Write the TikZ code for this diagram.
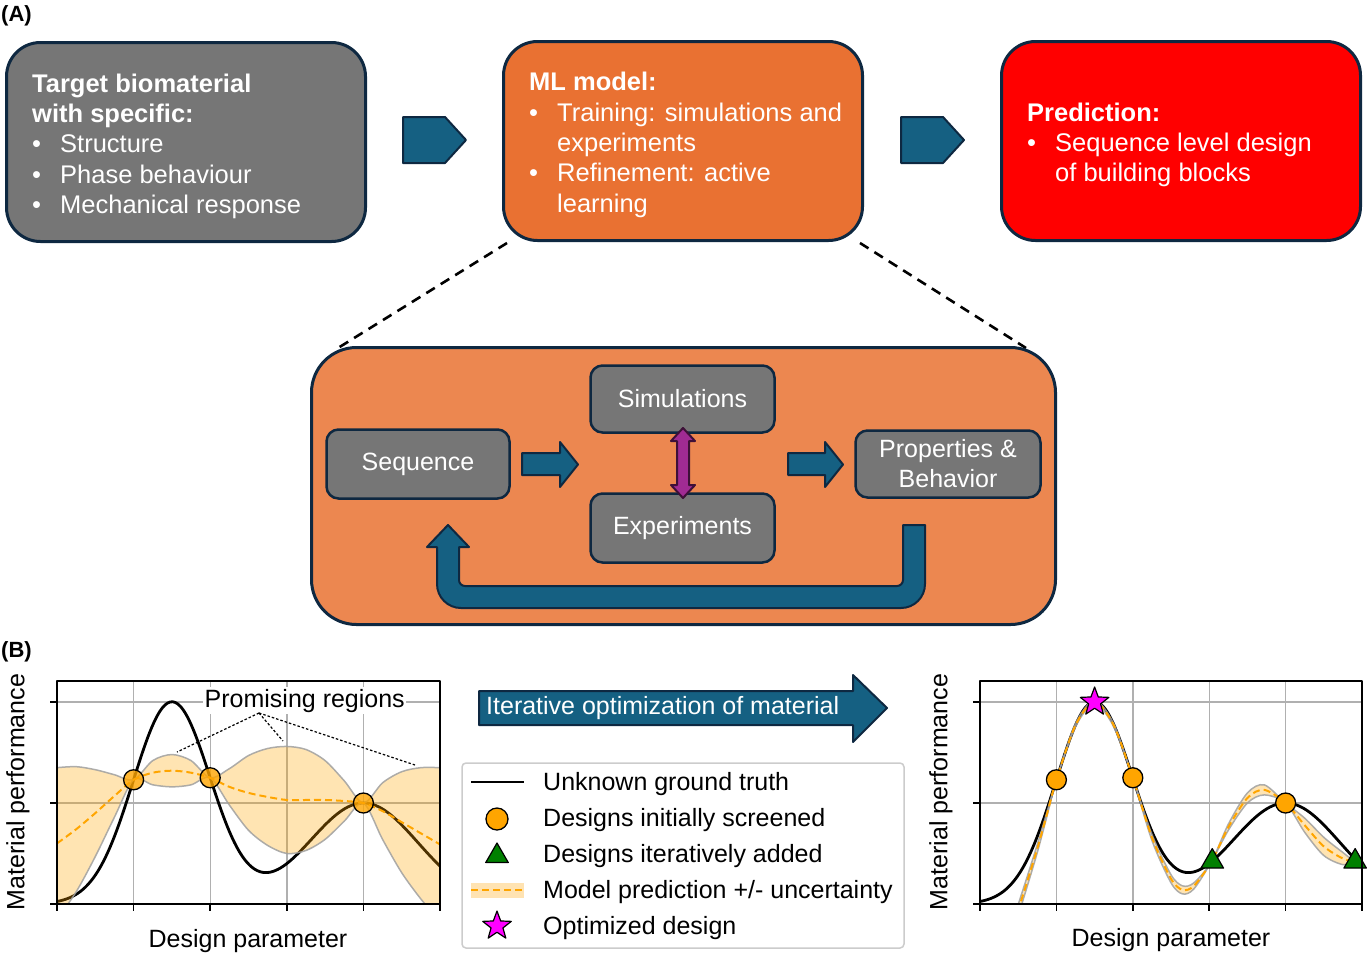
\documentclass[tikz,border=0pt]{standalone}
\usepackage{fontspec}
\setmainfont{Liberation Sans}
\usetikzlibrary{shapes.geometric}
\definecolor{navy}{HTML}{0E2841}
\definecolor{boxgray}{HTML}{767676}
\definecolor{mlorange}{HTML}{E97132}
\definecolor{lightorange}{HTML}{EC8750}
\definecolor{arrowblue}{HTML}{156082}
\definecolor{purp}{HTML}{A02B93}
\definecolor{purpdark}{HTML}{3E1038}
\definecolor{mplorange}{HTML}{FFA500}
\definecolor{mplgreen}{HTML}{008000}
\definecolor{mplmagenta}{HTML}{FF00FF}
\definecolor{gridgray}{HTML}{B0B0B0}
\definecolor{bandgray}{HTML}{A0A0A0}
\definecolor{leggray}{HTML}{CCCCCC}
\newcommand\bul{\makebox[28pt][l]{\textbullet}}
\newcommand\bigtxt{\fontsize{25.5}{30.4}\selectfont}
\newcommand\medtxt{\fontsize{25}{30}\selectfont}
\tikzset{
  topbox/.style={draw=navy, line width=3pt, rounded corners=34pt, inner sep=0pt, minimum width=359pt, minimum height=199pt},
  inbox/.style={draw=navy, line width=2.5pt, rounded corners=12pt, fill=boxgray, text=white, font=\medtxt, align=center, inner sep=0pt},
  boxtext/.style={text=white, align=left, inner sep=0pt, anchor=north west, font=\bigtxt},
  blk/.style={fill=arrowblue, draw=navy, line width=2pt},
  gridl/.style={gridgray, line width=1.4pt},
  axbox/.style={black, line width=1.8pt},
  tickmk/.style={black, line width=1.5pt},
  truth/.style={black, line width=2.8pt},
  meanl/.style={mplorange, line width=2pt, dash pattern=on 7pt off 4pt},
  bandf/.style={fill=mplorange, fill opacity=0.3},
  bande/.style={draw=bandgray, line width=1.5pt, draw opacity=0.85},
  mkc/.style={circle, fill=mplorange, draw=black, line width=1.3pt, minimum size=20pt, inner sep=0pt},
  mkt/.style={regular polygon, regular polygon sides=3, fill=mplgreen, draw=black, line width=1.2pt, minimum size=26pt, inner sep=0pt},
  mks/.style={star, star points=5, star point ratio=2.4, fill=mplmagenta, draw=black, line width=1.2pt, minimum size=30pt, inner sep=0pt},
  plotlbl/.style={font=\medtxt, inner sep=0pt},
  legtxt/.style={font=\medtxt, inner sep=0pt, anchor=base west},
  panel/.style={font=\fontsize{22}{26}\selectfont\bfseries, inner sep=0pt, anchor=base west}
}
\begin{document}
\begin{tikzpicture}[x=1pt, y=-1pt, line join=round]
\useasboundingbox (0,0) rectangle (1367,954);

% ---------- Panel A ----------
\node[panel] (lblA) at (1,21) {(A)};

\node[topbox, fill=boxgray] (tgt) at (186,142) {};
\node[boxtext] (tgtT) at (32,73.5) {\textbf{Target biomaterial}\\\textbf{with specific:}\\\bul Structure\\\bul Phase behaviour\\\bul Mechanical response};

\node[topbox, fill=mlorange] (ml) at (683,141) {};
\node[boxtext] (mlT) at (529,72) {\textbf{ML model:}\\\bul Training: simulations and\\\hspace*{28pt}experiments\\\bul Refinement: active\\\hspace*{28pt}learning};

\node[topbox, fill=red] (pred) at (1181,141) {};
\node[boxtext] (predT) at (1027,102.5) {\textbf{Prediction:}\\\bul Sequence level design\\\hspace*{28pt}of building blocks};

% pentagon arrows
\path[blk] (403,117) -- (445,117) -- (466,140) -- (445,163) -- (403,163) -- cycle;
\path[blk] (901,117) -- (943,117) -- (964,140) -- (943,163) -- (901,163) -- cycle;

% zoom lines
\coordinate (zl1) at (507,243);
\coordinate (zl2) at (338,348);
\coordinate (zr1) at (860,243);
\coordinate (zr2) at (1026,348);
\draw[black, line width=2.6pt, dash pattern=on 10pt off 7pt] (zl1) -- (zl2);
\draw[black, line width=2.6pt, dash pattern=on 10pt off 7pt] (zr1) -- (zr2);

% big box
\node[draw=navy, line width=3pt, rounded corners=45pt, fill=lightorange, minimum width=744pt, minimum height=277pt, inner sep=0pt] (big) at (683.5,486) {};

\node[inbox, minimum width=183pt, minimum height=69pt] (seq) at (418,464) {Sequence};
\node[inbox, minimum width=184pt, minimum height=67pt] (sim) at (682.5,399) {Simulations};
\node[inbox, minimum width=184pt, minimum height=69pt] (expt) at (682.5,528) {Experiments};
\node[inbox, minimum width=185pt, minimum height=67pt] (prop) at (948,464) {Properties \&\\Behavior};

% block arrows
\path[blk] (522,453) -- (560,453) -- (560,442) -- (578,464.5) -- (560,487) -- (560,475) -- (522,475) -- cycle;
\path[blk] (788,453) -- (825,453) -- (825,442) -- (843,464.5) -- (825,487) -- (825,475) -- (788,475) -- cycle;

% purple double arrow
\path[fill=purp, draw=purpdark, line width=2pt] (683,428) -- (695,441) -- (689,441) -- (689,485) -- (695,485) -- (683,498) -- (671,485) -- (677,485) -- (677,441) -- (671,441) -- cycle;

% feedback U arrow
\path[blk] (903,525) -- (925,525) -- (925,584) arc[start angle=0, end angle=90, radius=24] -- (461,608) arc[start angle=90, end angle=180, radius=24] -- (437,547) -- (427,547) -- (448,525) -- (469,547) -- (459,547) -- (459,580) arc[start angle=180, end angle=90, radius=6] -- (897,586) arc[start angle=90, end angle=0, radius=6] -- cycle;

% ---------- Panel B ----------
\node[panel] (lblB) at (1,657) {(B)};

% left plot
\begin{scope}[shift={(57,904)}, x=76.6pt, y=101pt]
  \foreach \g in {1,2,3,4} \draw[gridl] (\g,0) -- (\g,2.208);
  \foreach \g in {1,2} \draw[gridl] (0,\g) -- (5,\g);
  \foreach \g in {0,...,5} \draw[tickmk] (\g,0) -- (\g,-0.07);
  \foreach \g in {0,1,2} \draw[tickmk] (0,\g) -- (-0.09,\g);
  \begin{scope}
    \clip (0,0) rectangle (5,2.208);
    \draw[truth] plot[domain=0:5, samples=150, smooth] (\x, {2*exp(-((\x-1.5)^2)/0.514)+exp(-((\x-4)^2)/1.02)});
    \fill[bandf] plot[smooth] coordinates {(0,1.35) (0.25,1.36) (0.5,1.33) (0.75,1.28) (1,1.23) (1.25,1.42) (1.5,1.48) (1.75,1.42) (2,1.25) (2.25,1.34) (2.5,1.47) (2.75,1.54) (3,1.56) (3.25,1.53) (3.5,1.42) (3.75,1.22) (4,1.00) (4.25,1.20) (4.5,1.31) (4.75,1.35) (5,1.35)}
      -- plot[smooth] coordinates {(5,-0.17) (4.75,0.05) (4.5,0.31) (4.25,0.64) (4,1.00) (3.75,0.82) (3.5,0.64) (3.25,0.53) (3,0.50) (2.75,0.58) (2.5,0.73) (2.25,0.98) (2,1.25) (1.75,1.18) (1.5,1.16) (1.25,1.18) (1,1.23) (0.75,0.86) (0.5,0.47) (0.25,0.12) (0,-0.15)} -- cycle;
    \draw[bande] plot[smooth] coordinates {(0,1.35) (0.25,1.36) (0.5,1.33) (0.75,1.28) (1,1.23) (1.25,1.42) (1.5,1.48) (1.75,1.42) (2,1.25) (2.25,1.34) (2.5,1.47) (2.75,1.54) (3,1.56) (3.25,1.53) (3.5,1.42) (3.75,1.22) (4,1.00) (4.25,1.20) (4.5,1.31) (4.75,1.35) (5,1.35)};
    \draw[bande] plot[smooth] coordinates {(5,-0.17) (4.75,0.05) (4.5,0.31) (4.25,0.64) (4,1.00) (3.75,0.82) (3.5,0.64) (3.25,0.53) (3,0.50) (2.75,0.58) (2.5,0.73) (2.25,0.98) (2,1.25) (1.75,1.18) (1.5,1.16) (1.25,1.18) (1,1.23) (0.75,0.86) (0.5,0.47) (0.25,0.12) (0,-0.15)};
    \draw[meanl] plot[smooth] coordinates {(0,0.60) (0.25,0.74) (0.5,0.90) (0.75,1.07) (1,1.23) (1.25,1.30) (1.5,1.32) (1.75,1.30) (2,1.25) (2.25,1.16) (2.5,1.10) (2.75,1.06) (3,1.03) (3.25,1.03) (3.5,1.03) (3.75,1.02) (4,1.00) (4.25,0.92) (4.5,0.81) (4.75,0.70) (5,0.59)};
  \end{scope}
  \node[mkc, fill opacity=0.8] (lc1) at (1,1.23) {};
  \node[mkc, fill opacity=0.8] (lc2) at (2,1.25) {};
  \node[mkc, fill opacity=0.8] (lc3) at (4,1.00) {};
  \draw[axbox] (0,0) rectangle (5,2.208);
\end{scope}
\node[plotlbl, rotate=90] (lyl) at (18,792) {Material performance};
\node[plotlbl, anchor=base] (lxl) at (248,947) {Design parameter};
\node[font=\medtxt, fill=white, inner sep=1.5pt, anchor=base west] (prom) at (203,707) {Promising regions};
\coordinate (pr0) at (259,713);
\coordinate (pr1) at (177,752);
\coordinate (pr2) at (283,741);
\coordinate (pr3) at (415,765);
\draw[black, line width=1.2pt, dash pattern=on 2.5pt off 2pt] (pr0) -- (pr1);
\draw[black, line width=1.2pt, dash pattern=on 2.5pt off 2pt] (pr0) -- (pr2);
\draw[black, line width=1.2pt, dash pattern=on 2.5pt off 2pt] (pr0) -- (pr3);

% iterative arrow
\path[blk] (479,691) -- (853,691) -- (853,675) -- (887,708) -- (853,742) -- (853,725) -- (479,725) -- cycle;
\node[font=\medtxt, text=white, inner sep=0pt, anchor=base west] (iter) at (486,714) {Iterative optimization of material};

% legend
\node[draw=leggray, line width=1.5pt, rounded corners=4pt, fill=white, minimum width=442pt, minimum height=185pt, inner sep=0pt] (leg) at (683,855.5) {};
\coordinate (lg1a) at (471,782);
\coordinate (lg1b) at (524,782);
\draw[truth] (lg1a) -- (lg1b);
\node[mkc, minimum size=22pt] (lgc) at (497,819) {};
\node[mkt] (lgt) at (497,856) {};
\node[fill=mplorange, fill opacity=0.3, minimum width=53pt, minimum height=15pt, inner sep=0pt] (lgband) at (497.5,890) {};
\coordinate (lg4a) at (471,890);
\coordinate (lg4b) at (524,890);
\draw[meanl] (lg4a) -- (lg4b);
\node[mks] (lgs) at (497,926) {};
\node[legtxt] (lt1) at (543,790) {Unknown ground truth};
\node[legtxt] (lt2) at (543,826) {Designs initially screened};
\node[legtxt] (lt3) at (543,862) {Designs iteratively added};
\node[legtxt] (lt4) at (543,898) {Model prediction +/- uncertainty};
\node[legtxt] (lt5) at (543,934) {Optimized design};

% right plot
\begin{scope}[shift={(980,904)}, x=76.4pt, y=101pt]
  \foreach \g in {1,2,3,4} \draw[gridl] (\g,0) -- (\g,2.208);
  \foreach \g in {1,2} \draw[gridl] (0,\g) -- (5,\g);
  \foreach \g in {0,...,5} \draw[tickmk] (\g,0) -- (\g,-0.07);
  \foreach \g in {0,1,2} \draw[tickmk] (0,\g) -- (-0.09,\g);
  \draw[truth] plot[domain=0:5, samples=150, smooth] (\x, {2*exp(-((\x-1.5)^2)/0.514)+exp(-((\x-4)^2)/1.02)});
  \begin{scope}
    \clip (0,0) rectangle (5,2.208);
    \fill[bandf] plot[smooth] coordinates {(0.45,-0.12) (0.6,0.23) (0.75,0.59) (0.88,0.92) (1,1.23) (1.25,1.785) (1.5,2.015) (1.75,1.785) (2,1.25) (2.25,0.69) (2.5,0.29) (2.65,0.18) (2.8,0.21) (3.03,0.42) (3.25,0.79) (3.5,1.10) (3.72,1.18) (4,1.0) (4.25,0.85) (4.5,0.66) (4.75,0.51) (4.91,0.42) (5,0.43)}
      -- plot[smooth] coordinates {(5,0.41) (4.91,0.42) (4.75,0.39) (4.5,0.48) (4.25,0.71) (4,1.0) (3.72,1.08) (3.5,1.00) (3.25,0.73) (3.03,0.42) (2.8,0.15) (2.65,0.10) (2.5,0.21) (2.25,0.63) (2,1.25) (1.75,1.755) (1.5,1.985) (1.25,1.755) (1,1.23) (0.88,0.88) (0.75,0.51) (0.6,0.13) (0.45,-0.24)} -- cycle;
    \draw[bande] plot[smooth] coordinates {(0.45,-0.12) (0.6,0.23) (0.75,0.59) (0.88,0.92) (1,1.23) (1.25,1.785) (1.5,2.015) (1.75,1.785) (2,1.25) (2.25,0.69) (2.5,0.29) (2.65,0.18) (2.8,0.21) (3.03,0.42) (3.25,0.79) (3.5,1.10) (3.72,1.18) (4,1.0) (4.25,0.85) (4.5,0.66) (4.75,0.51) (4.91,0.42) (5,0.43)};
    \draw[bande] plot[smooth] coordinates {(5,0.41) (4.91,0.42) (4.75,0.39) (4.5,0.48) (4.25,0.71) (4,1.0) (3.72,1.08) (3.5,1.00) (3.25,0.73) (3.03,0.42) (2.8,0.15) (2.65,0.10) (2.5,0.21) (2.25,0.63) (2,1.25) (1.75,1.755) (1.5,1.985) (1.25,1.755) (1,1.23) (0.88,0.88) (0.75,0.51) (0.6,0.13) (0.45,-0.24)};
    \draw[meanl] plot[smooth] coordinates {(0.45,-0.18) (0.6,0.18) (0.75,0.55) (0.88,0.90) (1,1.23) (1.25,1.77) (1.5,2.0) (1.75,1.77) (2,1.25) (2.25,0.66) (2.5,0.25) (2.65,0.14) (2.8,0.18) (3.03,0.42) (3.25,0.76) (3.5,1.05) (3.72,1.13) (4,1.0) (4.25,0.78) (4.5,0.57) (4.75,0.45) (4.91,0.42) (5,0.42)};
  \end{scope}
  \node[mkc] (rc1) at (1,1.23) {};
  \node[mkc] (rc2) at (2,1.25) {};
  \node[mkc] (rc3) at (4,1.00) {};
  \node[mkt] (rt1) at (3.04,0.42) {};
  \node[mkt] (rt2) at (4.91,0.42) {};
  \node[mks] (rs) at (1.5,2.0) {};
  \draw[axbox] (0,0) rectangle (5,2.208);
\end{scope}
\node[plotlbl, rotate=90] (ryl) at (941,792) {Material performance};
\node[plotlbl, anchor=base] (rxl) at (1171,946) {Design parameter};
\end{tikzpicture}
\end{document}
